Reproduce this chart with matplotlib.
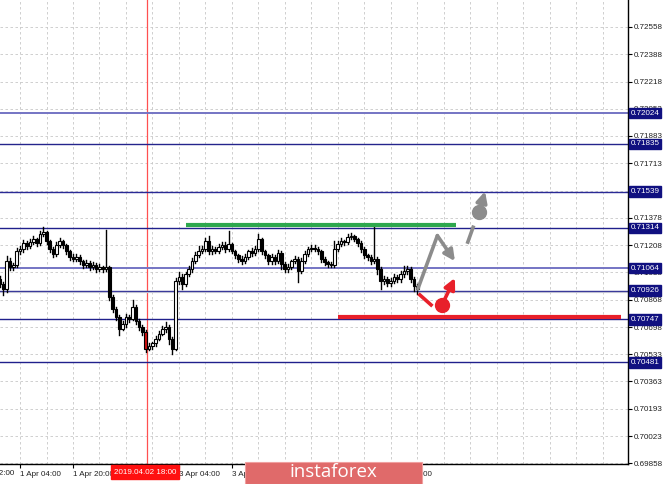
import matplotlib.pyplot as plt
from matplotlib.patches import Rectangle
import numpy as np

# hourly bars, bar 0 = 1 Apr 04:00
first_bar = -6
first_open = 0.70997
closes = [0.70967, 0.70936, 0.71108, 0.71071, 0.71084, 0.71170, 0.71183, 0.71220, 0.71201, 0.71226,
          0.71244, 0.71220, 0.71275, 0.71287, 0.71232, 0.71183, 0.71152, 0.71207, 0.71232, 0.71207,
          0.71170, 0.71133, 0.71121, 0.71133, 0.71108, 0.71084, 0.71096, 0.71071, 0.71084, 0.71059,
          0.71071, 0.71059, 0.71071, 0.70886, 0.70812, 0.70763, 0.70689, 0.70720, 0.70763, 0.70751,
          0.70825, 0.70738, 0.70701, 0.70670, 0.70566, 0.70584, 0.70600, 0.70627, 0.70658, 0.70689,
          0.70701, 0.70627, 0.70566, 0.70985, 0.71010, 0.70967, 0.71028, 0.71059, 0.71108, 0.71145,
          0.71170, 0.71183, 0.71232, 0.71170, 0.71183, 0.71170, 0.71195, 0.71207, 0.71183, 0.71213,
          0.71170, 0.71145, 0.71121, 0.71108, 0.71133, 0.71170, 0.71158, 0.71183, 0.71244, 0.71170,
          0.71145, 0.71108, 0.71133, 0.71108, 0.71158, 0.71090, 0.71059, 0.71071, 0.71108, 0.71121,
          0.71047, 0.71108, 0.71152, 0.71183, 0.71189, 0.71183, 0.71170, 0.71121, 0.71102, 0.71090,
          0.71084, 0.71183, 0.71213, 0.71232, 0.71226, 0.71257, 0.71263, 0.71244, 0.71220, 0.71183,
          0.71145, 0.71133, 0.71108, 0.71121, 0.71059, 0.70985, 0.70997, 0.70973, 0.70985, 0.71010,
          0.70997, 0.71028, 0.71047, 0.71059, 0.70997, 0.70954, 0.70936]
# wick lengths beyond the body, in pips
upper_pips = [2, 1, 3, 2, 1, 2, 2, 2, 1, 2, 2, 1, 2, 3, 1, 1, 1, 2, 2, 1,
              1, 1, 2, 2, 1, 1, 2, 1, 2, 1, 2, 1, 23, 1, 1, 1, 1, 2, 2, 1,
              4, 1, 1, 1, 1, 2, 1, 2, 2, 2, 3, 1, 1, 2, 3, 2, 1, 2, 2, 2,
              3, 2, 2, 3, 2, 1, 2, 2, 2, 8, 1, 1, 1, 2, 2, 1, 2, 2, 3, 1,
              1, 1, 2, 1, 2, 1, 1, 2, 1, 2, 1, 2, 2, 1, 2, 2, 1, 1, 1, 1,
              1, 5, 2, 2, 1, 2, 2, 1, 1, 1, 1, 1, 1, 20, 1, 1, 2, 1, 2, 2,
              1, 2, 3, 2, 1, 1, 1]
lower_pips = [2, 4, 2, 2, 2, 1, 2, 2, 2, 1, 1, 2, 1, 1, 2, 2, 2, 1, 1, 2,
              2, 2, 1, 1, 2, 2, 1, 2, 1, 2, 1, 2, 1, 2, 2, 2, 4, 1, 2, 2,
              1, 2, 2, 2, 2, 1, 2, 2, 1, 1, 2, 3, 3, 1, 2, 3, 1, 1, 2, 1,
              1, 1, 1, 2, 2, 1, 1, 1, 2, 1, 1, 2, 2, 2, 1, 1, 2, 1, 1, 2,
              2, 2, 2, 2, 1, 3, 2, 2, 1, 1, 7, 1, 1, 1, 1, 1, 2, 2, 2, 2,
              1, 1, 1, 1, 2, 1, 1, 1, 2, 2, 2, 2, 2, 1, 3, 5, 2, 2, 2, 1,
              2, 2, 2, 2, 2, 3, 3]
selected_bar = 38

levels = [0.72024, 0.71835, 0.71539, 0.71314, 0.71064, 0.70926, 0.70747, 0.70481]
level_colors = ['#7474c4', '#24248c', '#2a2a96', '#20208c', '#7474c4', '#3a3a9a', '#20208c', '#20208c']

price_ticks = [0.72558, 0.72388, 0.72218, 0.72053, 0.71883, 0.71713, 0.71543, 0.71378, 0.71208,
               0.71038, 0.70868, 0.70698, 0.70533, 0.70363, 0.70193, 0.70023, 0.69858]
time_ticks = [0, 16, 32, 48, 64, 80, 96, 112]
time_labels = ['1 Apr 04:00', '1 Apr 20:00', '2 Apr 12:00', '3 Apr 04:00',
               '3 Apr 20:00', '4 Apr 12:00', '5 Apr 04:00', '5 Apr 20:00']
cut_label = '31 Mar 12:00'   # sits at bar -16, mostly off the left edge

# forecast marks (bar index, price)
green_level = 0.71331
green_span = [50.2, 131.7]
red_level = 0.70760
red_span = [96.1, 181.6]
gray_path_x = [120.2, 126.1, 131.4]
gray_path_y = [0.70936, 0.71266, 0.71108]
gray_dash_x = [135.3, 136.9]
gray_dash_y = [0.71226, 0.71318]
gray_dot = (138.7, 0.71411)
gray_tip = (140.5, 0.71540)
red_dash_x = [120.8, 124.2]
red_dash_y = [0.70899, 0.70837]
red_dot = (127.5, 0.70837)
red_tip = (131.4, 0.71004)

gray = '#8c8c8c'
red = '#e8202a'
font = 'Liberation Sans'

fig = plt.figure(figsize=(6.65, 4.84), dpi=100)
ax = fig.add_axes([0, 20/484, 628/665, 464/484])

for t in np.arange(0, 184, 8):
    ax.axvline(t, color='#c8c8c8', lw=0.6, ls=(0, (3, 3)), zorder=0)
for p in price_ticks:
    ax.axhline(p, color='#c8c8c8', lw=0.6, ls=(0, (3, 3)), zorder=0)

ax.axvline(38.35, color='#ff5050', lw=0.9, zorder=1)

for p, c in zip(levels, level_colors):
    lw = 1.4 if c == '#7474c4' else 1.0
    ax.axhline(p, color=c, lw=lw, zorder=2)
ax.axhline(0.70926 - 0.00012, color='#e0e0e0', lw=1.6, zorder=1)

opens = [first_open] + closes[:-1]
for k, (o, c) in enumerate(zip(opens, closes)):
    i = first_bar + k
    hi = max(o, c) + upper_pips[k] * 1e-4
    lo = min(o, c) - lower_pips[k] * 1e-4
    ax.plot([i, i], [lo, hi], color='black', lw=1.0, zorder=3)
    if i == selected_bar:
        fc = '#d01010'
    elif c >= o:
        fc = 'white'
    else:
        fc = 'black'
    ax.add_patch(Rectangle((i - 0.4, min(o, c)), 0.8, max(abs(c - o), 0.00003),
                           facecolor=fc, edgecolor='black', lw=0.8, zorder=4))

ax.plot(green_span, [green_level, green_level], color='#2ea84e', lw=3, solid_capstyle='butt', zorder=5)
ax.plot(red_span, [red_level, red_level], color=red, lw=3, solid_capstyle='butt', zorder=5)

ax.plot(gray_path_x[:2], gray_path_y[:2], color=gray, lw=2.6, solid_capstyle='round', zorder=6)
ax.annotate('', xy=(gray_path_x[2], gray_path_y[2]), xytext=(gray_path_x[1], gray_path_y[1]),
            arrowprops=dict(arrowstyle='-|>', color=gray, lw=2.6, mutation_scale=16, shrinkA=0, shrinkB=0), zorder=6)
ax.plot(gray_dash_x, gray_dash_y, color=gray, lw=2.6, zorder=6)
ax.plot(*gray_dot, 'o', color=gray, ms=10, zorder=6)
ax.annotate('', xy=gray_tip, xytext=gray_dot,
            arrowprops=dict(arrowstyle='-|>', color=gray, lw=2.6, mutation_scale=16, shrinkA=0, shrinkB=0), zorder=6)
ax.plot(red_dash_x, red_dash_y, color=red, lw=2.6, zorder=6)
ax.plot(*red_dot, 'o', color=red, ms=10, zorder=6)
ax.annotate('', xy=red_tip, xytext=red_dot,
            arrowprops=dict(arrowstyle='-|>', color=red, lw=2.6, mutation_scale=16, shrinkA=0, shrinkB=0), zorder=6)

# axes frame and ticks
for s in ['left', 'top']:
    ax.spines[s].set_visible(False)
ax.spines['right'].set_linewidth(1.0)
ax.spines['bottom'].set_linewidth(1.0)
ax.yaxis.tick_right()
ax.set_yticks(price_ticks)
ax.set_yticklabels(['%.5f' % p for p in price_ticks], fontsize=5.8, color='#202020', family=font)
ax.tick_params(axis='y', length=3, pad=1.5, width=0.8)
ax.set_xticks(time_ticks)
ax.set_xticklabels(time_labels, fontsize=5.8, color='#202020', ha='left', family=font)
ax.tick_params(axis='x', length=3, pad=2, width=0.8)
ax.set_xlim(-6.05, 183.7)
ax.set_ylim(0.69852, 0.72725)

ax.text(-16, -0.012, cut_label, transform=ax.get_xaxis_transform(), fontsize=5.8, color='#202020',
        ha='left', va='top', family=font, clip_on=False)

# level labels on the price scale
for p in levels:
    ax.text(1.0045, p, '%.5f' % p, transform=ax.get_yaxis_transform(), fontsize=5.8, color='white',
            va='center', ha='left', zorder=10, clip_on=False, family=font,
            bbox=dict(boxstyle='square,pad=0.2', facecolor='#101080', edgecolor='#101080'))

# crosshair time label
fig.text(145/665, 1 - 472/484, '2019.04.02 18:00', fontsize=5.8, color='white', ha='center', va='center',
         family=font, bbox=dict(boxstyle='square,pad=0.4', facecolor='#ff1010', edgecolor='#ff1010'))

# watermark banner
fig.patches.append(Rectangle((245/665, 0), 177/665, 22/484, transform=fig.transFigure,
                             facecolor='#e06a6a', edgecolor='#f0a0a0', lw=0.8, zorder=20))
fig.text(333/665, 1 - 472/484, 'instaforex', fontsize=13.5, color='white', ha='center', va='center',
         family='Open Sans', zorder=21)

plt.savefig('out.png', dpi=100)
